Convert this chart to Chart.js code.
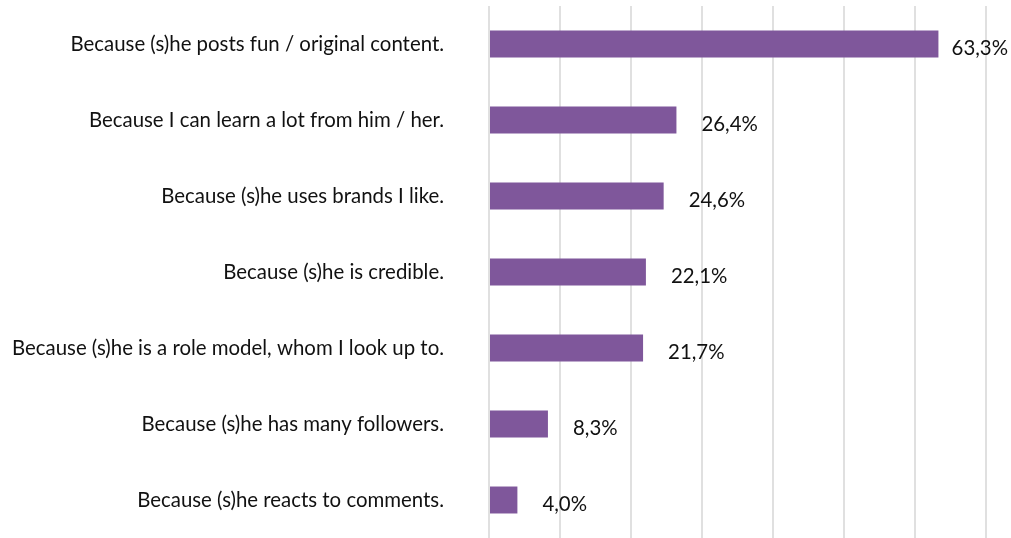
<!DOCTYPE html>
<html>
<head>
<meta charset="utf-8">
<script src="https://cdn.jsdelivr.net/npm/chart.js@4/dist/chart.umd.min.js"></script>
<style>
  html, body { margin: 0; padding: 0; background: #fff; }
  #wrap { width: 1011px; height: 538px; }
</style>
</head>
<body>
<div id="wrap"><canvas id="reasonsChart"></canvas></div>
<script>
const reasons = [
  "Because (s)he posts fun / original content.",
  "Because I can learn a lot from him / her.",
  "Because (s)he uses brands I like.",
  "Because (s)he is credible.",
  "Because (s)he is a role model, whom I look up to.",
  "Because (s)he has many followers.",
  "Because (s)he reacts to comments."
];
const shares = [63.3, 26.4, 24.6, 22.1, 21.7, 8.3, 4.0];
const axisMax = 70;
const axisStep = 10;

const FONT = "Lato, 'Noto Sans', sans-serif";
const FONT_SIZE = 20.4;

// value labels just past the end of each bar, kept inside the canvas
const valueLabels = {
  id: "valueLabels",
  afterDatasetsDraw(chart) {
    const ctx = chart.ctx;
    const meta = chart.getDatasetMeta(0);
    ctx.save();
    ctx.font = FONT_SIZE + "px " + FONT;
    ctx.fillStyle = "#111";
    ctx.textAlign = "left";
    ctx.textBaseline = "middle";
    meta.data.forEach((bar, i) => {
      const txt = shares[i].toFixed(1).replace(".", ",") + "%";
      const w = ctx.measureText(txt).width;
      const x = Math.min(bar.x + 25, chart.width - w - 3);
      ctx.fillText(txt, x, bar.y + 4);
    });
    ctx.restore();
  }
};

new Chart(document.getElementById("reasonsChart"), {
  type: "bar",
  data: {
    labels: reasons,
    datasets: [{
      data: shares,
      backgroundColor: "#7f579b",
      borderWidth: 0,
      barPercentage: 0.355,
      categoryPercentage: 1
    }]
  },
  options: {
    indexAxis: "y",
    responsive: true,
    maintainAspectRatio: false,
    animation: false,
    layout: { padding: { top: 6, right: 25, bottom: 0, left: 0 } },
    plugins: {
      legend: { display: false },
      tooltip: { enabled: false }
    },
    scales: {
      x: {
        min: 0,
        max: axisMax,
        ticks: { display: false, stepSize: axisStep },
        grid: { color: "#e0e0e0", lineWidth: 2, drawTicks: false },
        border: { display: false },
        afterFit(scale) { scale.height = 0; }
      },
      y: {
        grid: { display: false, drawTicks: false },
        border: { display: false },
        ticks: {
          color: "#111",
          padding: 45,
          font: { family: FONT, size: FONT_SIZE }
        },
        afterFit(scale) {
          scale.width = 489;
          scale.paddingTop = 0;
          scale.paddingBottom = 0;
        }
      }
    }
  },
  plugins: [valueLabels]
});
</script>
</body>
</html>
